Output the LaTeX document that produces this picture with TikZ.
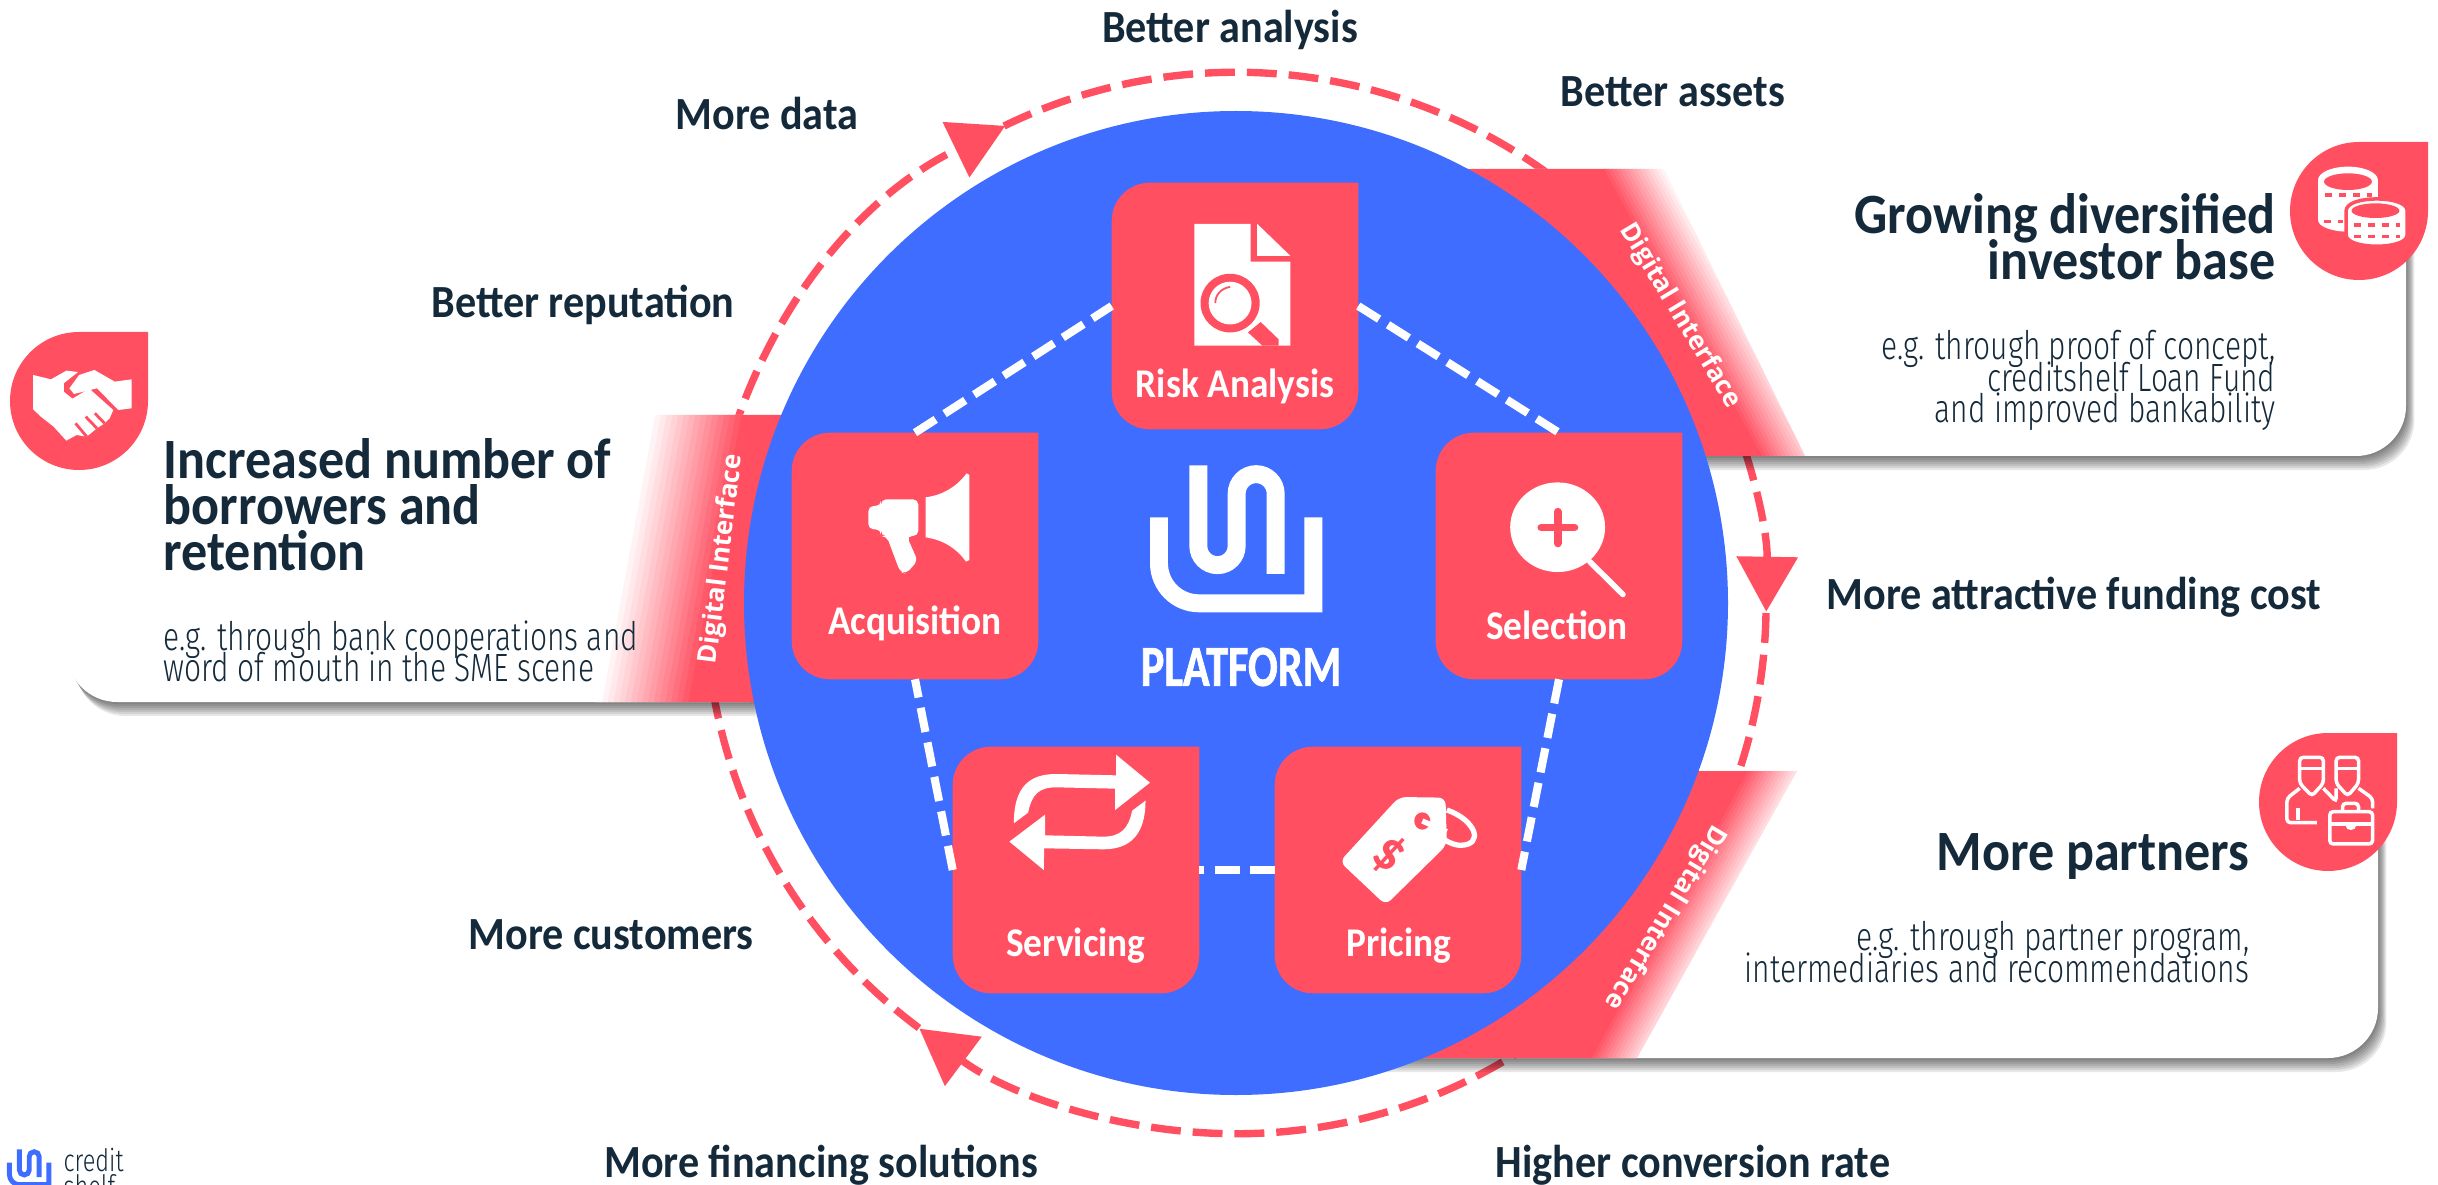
\documentclass[tikz,border=0pt]{standalone}
\usepackage{fontspec}
\usepackage{xcolor}
\setmainfont{Carlito}[FakeStretch=.915]
\newfontfamily\thinfont{Fira Sans Light}[FakeStretch=.76]
\newfontfamily\platformfont{Carlito Bold}[FakeStretch=.76,FakeBold=1.2]
\newfontfamily\digifont{Open Sans}
\usetikzlibrary{arrows.meta,positioning,calc}
\definecolor{crimson}{HTML}{FF4F60}
\definecolor{hubblue}{HTML}{3E6DFF}
\definecolor{inkdark}{HTML}{14293A}
\newcommand{\tightlines}{\lineskiplimit=-100pt\relax}

\tikzset{
    ringline/.style={crimson,line width=2.1pt,dash pattern=on 8.5pt off 3.4pt},
    ringtip/.style={-{Triangle[length=15.6pt,width=17pt,fill=crimson]}},
    pentline/.style={white,line width=2.3pt,dash pattern=on 7pt off 3pt},
    ringlabel/.style={font=\fontsize{13.1}{15}\bfseries\selectfont,text=inkdark,inner sep=0pt},
    headtext/.style={font=\fontsize{16.2}{13.1}\bfseries\selectfont\tightlines,text=inkdark,inner sep=0pt},
    subtext/.style={font=\thinfont\fontsize{11.2}{8.9}\selectfont\tightlines,text=inkdark,inner sep=0pt},
    cardlabel/.style={font=\fontsize{11.6}{13}\bfseries\selectfont,text=white,inner sep=0pt,anchor=base},
    digilabel/.style={font=\digifont\fontsize{7.4}{9}\bfseries\selectfont,text=white,inner sep=0pt},
    cardnode/.style={minimum size=2.45cm,inner sep=0pt},
    panelfill/.style={fill=white,rounded corners=5mm},
    iconline/.style={white,line width=1pt,rounded corners=1pt}
}

% card with one square corner
\newcommand{\cardfill}[1]{
    \fill[crimson] (#1.north east) [rounded corners=3.8mm] -- (#1.south east) -- (#1.south west) -- (#1.north west) [sharp corners] -- cycle;
}
% drop behind the panel icons
\newcommand{\dropfill}[2]{
    \fill[crimson] (#1+69,#2-69) -- (#1+69,#2) arc[start angle=0,end angle=270,radius=69] -- cycle;
}
% soft shadow of a panel
\newcommand{\panelshadow}[4]{
    \foreach \s in {14,12,...,2}{
        \fill[black,opacity=.09,rounded corners=5mm] (#1+\s*.6,#2+\s*.3) rectangle (#3+\s*.6,#4+\s);
    }
}
% fade of a band, drawn in steps
\newcommand{\bandfade}[5]{
    \foreach \i in {1,...,16}{
        \pgfmathsetmacro{\tint}{100-100*\i/16}
        \fill[crimson!\tint] ({#3+\i*#5},#1) -- ({#4+\i*#5},#2) -- ({#4+(\i+1.3)*#5},#2) -- ({#3+(\i+1.3)*#5},#1) -- cycle;
    }
}
% company mark, drawn in its own units
\newcommand{\shelfmark}[5]{
    \begin{scope}[shift={(#1,#2)},scale=#3]
        \draw[#4,line width=#5,line join=miter] (87,232) -- (87,370) arc[start angle=180,end angle=90,radius=120] -- (550,490) -- (550,232);
        \draw[#4,line width=#5] (205,76) -- (205,318) arc[start angle=180,end angle=0,radius=57.5] -- (320,161) arc[start angle=180,end angle=360,radius=58.5] -- (437,402);
    \end{scope}
}

\begin{document}
\begin{tikzpicture}[x=0.01cm,y=-0.01cm]
    \useasboundingbox (0,0) rectangle (2438,1185);

    % Ring
    \coordinate (hubc) at (1236,603);
    \draw[ringline,ringtip] ($(hubc)+(-530,0)$) arc[start angle=180,end angle=244.2,radius=530];
    \draw[ringline,ringtip] ($(hubc)+(-232,-477)$) arc[start angle=244,end angle=361,radius=530];
    \draw[ringline,ringtip] ($(hubc)+(530,10)$) arc[start angle=1,end angle=126.7,radius=530];
    \draw[ringline] ($(hubc)+(-317,425)$) arc[start angle=126.7,end angle=180,radius=530];

    % Panels
    \panelshadow{1400}{169}{2406}{456}
    \fill[panelfill] (1400,169) rectangle (2406,456);
    \panelshadow{1300}{771}{2378}{1058}
    \fill[panelfill] (1300,771) rectangle (2378,1058);
    \panelshadow{67}{415}{800}{702}
    \fill[panelfill] (67,415) rectangle (800,702);

    % Band of the investor panel
    \begin{scope}
        \clip (1400,169) -- (1664,169) -- (1805,456) -- (1400,456) -- cycle;
        \fill[crimson] (1400,169) -- (1606,169) -- (1764,456) -- (1400,456) -- cycle;
        \bandfade{169}{456}{1600}{1758}{4}
    \end{scope}
    % Band of the partner panel
    \begin{scope}
        \clip (1300,771) -- (1797,771) -- (1637,1058) -- (1300,1058) -- cycle;
        \fill[crimson] (1300,771) -- (1750,771) -- (1594,1058) -- (1300,1058) -- cycle;
        \bandfade{771}{1058}{1744}{1588}{3.8}
    \end{scope}
    % Band of the borrower panel
    \begin{scope}
        \clip (560,415) rectangle (800,702);
        \fill[crimson] (800,415) -- (738,415) -- (685,702) -- (800,702) -- cycle;
        \bandfade{415}{702}{747}{694}{-5.75}
    \end{scope}

    % Hub
    \fill[hubblue] (hubc) circle (492);

    \node[digilabel,rotate=-59] (digiinvestor) at (1680,316) {Digital Interface};
    \node[digilabel,rotate=-121] (digipartner) at (1665,917) {Digital Interface};
    \node[digilabel,rotate=83] (digiborrower) at (722,559) {Digital Interface};

    % Cards
    \node[cardnode] (risk) at (1235,306) {};
    \node[cardnode] (selection) at (1559,556) {};
    \node[cardnode] (pricing) at (1398,870) {};
    \node[cardnode] (servicing) at (1076,870) {};
    \node[cardnode] (acquisition) at (915,556) {};
    \foreach \c in {risk,selection,pricing,servicing,acquisition}{\cardfill{\c}}

    \draw[pentline] (risk.east) -- (selection.north);
    \draw[pentline] (selection.south) -- (pricing.east);
    \draw[pentline] (pricing.west) -- (servicing.east);
    \draw[pentline] (servicing.west) -- (acquisition.south);
    \draw[pentline] (acquisition.north) -- (risk.west);

    \node[cardlabel] (risklabel) at (1235,398) {Risk Analysis};
    \node[cardlabel] (selectionlabel) at (1557,639) {Selection};
    \node[cardlabel] (pricinglabel) at (1399,956) {Pricing};
    \node[cardlabel] (servicinglabel) at (1076,956) {Servicing};
    \node[cardlabel] (acquisitionlabel) at (915,634) {Acquisition};

    % Risk icon
    \begin{scope}[shift={(1100,160)},xscale=.5102,yscale=.3448]
        \fill[white] (185,185) -- (295,185) -- (295,295) -- (373,295) -- (373,538) -- (185,538) -- cycle;
        \fill[white] (308,185) -- (373,278) -- (308,278) -- cycle;
        \fill[crimson] (290,500) -- (315,470) -- (350,520) -- (350,538) -- (318,538) -- cycle;
        \fill[crimson] (255,415) ellipse [x radius=58,y radius=85];
        \fill[white] (255,415) ellipse [x radius=42,y radius=62];
        \draw[crimson,line width=.5pt] (226,415) .. controls (226,390) and (238,372) .. (255,368);
    \end{scope}

    % Selection icon
    \begin{scope}[shift={(1100,160)},xscale=.5102,yscale=.3448]
        \fill[white] (897,1065) ellipse [x radius=93,y radius=130];
        \draw[white,line width=1.6pt,line cap=round] (960,1165) -- (1025,1260);
        \draw[crimson,line width=2.2pt,line cap=round] (897,1020) -- (897,1112);
        \draw[crimson,line width=2.2pt,line cap=round] (865,1066) -- (930,1066);
    \end{scope}

    % Acquisition icon
    \begin{scope}[shift={(780,430)},scale=.3333]
        \fill[white,rounded corners=1.5pt] (265,228) -- (303,228) -- (303,208) -- (415,208) -- (415,318) -- (380,318) -- (413,392) -- (378,432) -- (360,425) -- (320,318) -- (303,318) -- (303,298) -- (265,298) -- cycle;
        \fill[white] (437,202) .. controls (490,195) and (530,170) .. (560,130) -- (568,135) -- (568,390) -- (558,395) .. controls (530,355) and (490,330) .. (437,322) -- cycle;
    \end{scope}

    % Servicing icon
    \begin{scope}[shift={(900,720)},xscale=.4464,yscale=.3333]
        \fill[white] (255,310) .. controls (255,200) and (290,162) .. (350,162) -- (484,166) -- (484,104) -- (560,188) -- (482,270) -- (482,206) -- (350,202) .. controls (310,202) and (295,225) .. (287,278) -- cycle;
        \fill[white] (550,242) .. controls (550,345) and (515,388) .. (455,388) -- (323,385) -- (322,450) -- (245,365) -- (325,284) -- (325,346) -- (455,350) .. controls (495,350) and (512,325) .. (520,272) -- cycle;
    \end{scope}

    % Pricing icon
    \begin{scope}[shift={(900,720)},xscale=.4464,yscale=.3333]
        \draw[white,line width=1.5pt] (1225,270) .. controls (1290,300) and (1310,375) .. (1255,376) .. controls (1235,376) and (1205,350) .. (1185,325);
        \fill[white,rounded corners=2pt] (1118,231) -- (1222,233) -- (1225,375) -- (1088,555) -- (985,425) -- cycle;
        \fill[crimson] (1170,303) ellipse [x radius=18,y radius=26];
        \draw[white,line width=1.5pt] (1170,303) -- (1225,335);
    \end{scope}
    \node[font=\fontsize{16}{16}\bfseries\selectfont,text=crimson,rotate=-38,inner sep=0pt] (tagdollar) at (1389,855) {\$};

    % Platform
    \shelfmark{1130}{440}{.3333}{white}{5.1pt}
    \node[font=\platformfont\fontsize{16.5}{18}\selectfont,text=white,inner sep=0pt] (platform) at (1241,667) {PLATFORM};

    % Panel texts
    \node[headtext,anchor=north west,align=left] (borrowerhead) at (163,438) {Increased number of\\borrowers and\\retention};
    \node[subtext,anchor=north west,align=left] (borrowersub) at (163,620) {e.g. through bank cooperations and\\word of mouth in the SME scene};
    \node[headtext,anchor=north east,align=right] (investorhead) at (2276,193) {Growing diversified\\investor base};
    \node[subtext,anchor=north east,align=right] (investorsub) at (2276,330) {e.g. through proof of concept,\\creditshelf Loan Fund\\and improved bankability};
    \node[headtext,anchor=north east,align=right] (partnerhead) at (2250,833) {More partners};
    \node[subtext,anchor=north east,align=right] (partnersub) at (2250,921) {e.g. through partner program,\\intermediaries and recommendations};

    % Panel icons
    \dropfill{79}{401}
    \dropfill{2359}{211}
    \dropfill{2328}{802}

    % Handshake
    \begin{scope}[shift={(0,320)},xscale=.5102,yscale=.3333]
        \fill[white] (65,165) -- (100,178) -- (130,152) -- (153,156) -- (125,190) -- (125,215) -- (142,236) -- (175,206) -- (222,270) -- (215,295) -- (205,310) -- (190,325) -- (170,350) -- (150,345) -- (130,362) -- (105,320) -- (80,290) -- (65,268) -- cycle;
        \fill[white] (155,165) -- (185,150) -- (225,185) -- (258,178) -- (258,265) -- (232,270) -- (190,205) -- (145,222) -- (136,205) -- cycle;
        \draw[crimson,line width=.8pt] (170,350) -- (148,310) (190,325) -- (168,290) (205,310) -- (186,280);
    \end{scope}

    % Coins
    \begin{scope}[shift={(1500,120)},xscale=.598,yscale=.3333]
        \fill[white] (1418,180) ellipse [x radius=50,y radius=40];
        \fill[white] (1368,180) rectangle (1468,300);
        \fill[white] (1418,300) ellipse [x radius=50,y radius=35];
        \filldraw[white,draw=crimson,line width=1pt] (1415,272) .. controls (1415,225) and (1517,225) .. (1517,272) -- (1517,345) .. controls (1517,390) and (1415,390) .. (1415,345) -- cycle;
        \fill[crimson] (1418,185) ellipse [x radius=40,y radius=25];
        \fill[crimson] (1464,272) ellipse [x radius=40,y radius=22];
        \draw[crimson,line width=1pt,dash pattern=on 2pt off 2pt] (1380,225) -- (1458,225);
        \draw[crimson,line width=1pt,dash pattern=on 2pt off 2pt] (1378,305) -- (1410,305);
        \draw[crimson,line width=1pt,dash pattern=on 2pt off 2pt] (1428,315) -- (1505,315);
        \draw[crimson,line width=1pt,dash pattern=on 2pt off 2pt] (1428,350) -- (1505,350);
    \end{scope}

    % Partners
    \begin{scope}[shift={(1400,720)},xscale=.639,yscale=.3333]
        \draw[iconline] (1408,190) -- (1408,112) -- (1445,112) -- (1445,190) -- (1427,228) -- cycle;
        \draw[iconline] (1408,145) -- (1445,145);
        \draw[iconline] (1465,190) -- (1465,112) -- (1500,112) -- (1500,190) -- (1483,228) -- cycle;
        \draw[iconline] (1465,145) -- (1500,145);
        \draw[iconline] (1435,308) -- (1388,308) -- (1388,235) -- (1408,205);
        \draw[iconline] (1405,300) -- (1405,265);
        \draw[iconline] (1445,205) -- (1465,245) -- (1465,205);
        \draw[iconline] (1500,205) -- (1522,235) -- (1522,265);
        \draw[iconline] (1455,275) rectangle (1522,372);
        \draw[iconline] (1475,275) -- (1475,250) -- (1500,250) -- (1500,275);
        \draw[iconline] (1455,312) -- (1522,312);
        \fill[white] (1488,318) ellipse [x radius=8,y radius=12];
    \end{scope}

    % Ring labels
    \node[ringlabel] (analysislabel) at (1230,30) {Better analysis};
    \node[ringlabel] (assetslabel) at (1673,92) {Better assets};
    \node[ringlabel] (datalabel) at (767,114) {More data};
    \node[ringlabel] (reputationlabel) at (583,305) {Better reputation};
    \node[ringlabel] (fundinglabel) at (2074,597) {More attractive funding cost};
    \node[ringlabel] (customerlabel) at (611,935) {More customers};
    \node[ringlabel] (financinglabel) at (821,1165) {More financing solutions};
    \node[ringlabel] (conversionlabel) at (1693,1165) {Higher conversion rate};

    % Company mark
    \shelfmark{2}{1143}{.0851}{hubblue}{1.4pt}
    \node[font=\thinfont\fontsize{8.8}{7.5}\selectfont,text=inkdark,inner sep=0pt,anchor=north west,align=left] (brand) at (63,1147) {credit\\shelf};
\end{tikzpicture}
\end{document}
